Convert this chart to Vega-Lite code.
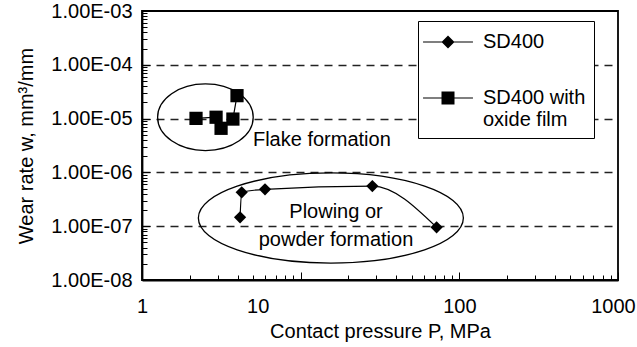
{
  "$schema": "https://vega.github.io/schema/vega-lite/v6.json",
  "width": 476,
  "height": 269,
  "autosize": {"type": "none"},
  "padding": {"left": 142, "top": 11, "right": 19, "bottom": 67},
  "background": "white",
  "config": {
    "font": "Liberation Sans",
    "view": {"stroke": "black", "strokeWidth": 1.8},
    "axis": {
      "labelFont": "Liberation Sans",
      "labelFontSize": 20,
      "labelColor": "black",
      "titleFont": "Liberation Sans",
      "titleFontSize": 20,
      "titleFontWeight": "normal",
      "titleColor": "black",
      "domainColor": "black",
      "domainWidth": 1.8,
      "tickColor": "black",
      "tickWidth": 1,
      "labelOverlap": false,
      "labelFlush": false
    },
    "text": {"font": "Liberation Sans"}
  },
  "datasets": {
    "pts": [
      {"series": "SD400", "i": 1, "P": 4.15, "w": 1.46e-7},
      {"series": "SD400", "i": 2, "P": 4.25, "w": 4.27e-7},
      {"series": "SD400", "i": 3, "P": 5.96, "w": 4.85e-7},
      {"series": "SD400", "i": 4, "P": 28.3, "w": 5.58e-7},
      {"series": "SD400", "i": 5, "P": 71.9, "w": 9.55e-8},
      {"series": "SD400 with oxide film", "i": 1, "P": 2.19, "w": 1.01e-5},
      {"series": "SD400 with oxide film", "i": 2, "P": 2.93, "w": 1.06e-5},
      {"series": "SD400 with oxide film", "i": 3, "P": 3.15, "w": 6.6e-6},
      {"series": "SD400 with oxide film", "i": 4, "P": 3.74, "w": 9.8e-6},
      {"series": "SD400 with oxide film", "i": 5, "P": 3.97, "w": 2.67e-5}
    ],
    "ell": [
      {"name": "flake", "P": 2.51, "w": 1.06e-5},
      {"name": "plow", "P": 15.5, "w": 1.42e-7}
    ],
    "ann": [
      {"label": "Flake formation", "P": 13.6, "w": 4.0e-6},
      {"label": "Plowing or", "P": 16.7, "w": 1.80e-7},
      {"label": "powder formation", "P": 16.7, "w": 5.54e-8}
    ]
  },
  "encoding": {
    "x": {
      "field": "P", "type": "quantitative",
      "scale": {"type": "log", "domain": [1, 1000]},
      "axis": {
        "title": "Contact pressure P, MPa",
        "values": [1,2,3,4,5,6,7,8,9,10,20,30,40,50,60,70,80,90,100,200,300,400,500,600,700,800,900,1000],
        "labelExpr": "indexof([1,10,100,1000], datum.value) >= 0 ? '' + datum.value : ''",
        "tickSize": {"condition": {"test": "indexof([1,10,100,1000], datum.value) >= 0", "value": -8}, "value": -5},
        "labelOffset": {"condition": [{"test": "datum.value == 10", "value": -43}, {"test": "datum.value == 1000", "value": -5}], "value": 0},
        "labelPadding": 24,
        "grid": false,
        "titlePadding": 2
      }
    },
    "y": {
      "field": "w", "type": "quantitative",
      "scale": {"type": "log", "domain": [1e-8, 1e-3]},
      "axis": {
        "title": "Wear rate w, mm³/mm",
        "values": [1e-8,2e-8,3e-8,4e-8,5e-8,6e-8,7e-8,8e-8,9e-8,1e-7,2e-7,3e-7,4e-7,5e-7,6e-7,7e-7,8e-7,9e-7,1e-6,2e-6,3e-6,4e-6,5e-6,6e-6,7e-6,8e-6,9e-6,1e-5,2e-5,3e-5,4e-5,5e-5,6e-5,7e-5,8e-5,9e-5,1e-4,2e-4,3e-4,4e-4,5e-4,6e-4,7e-4,8e-4,9e-4,1e-3],
        "labelExpr": "abs(log(datum.value)/LN10 - round(log(datum.value)/LN10)) < 0.001 ? '1.00E-0' + round(-log(datum.value)/LN10) : ''",
        "tickSize": {"condition": {"test": "abs(log(datum.value)/LN10 - round(log(datum.value)/LN10)) < 0.001", "value": -8}, "value": -5},
        "labelPadding": 18,
        "grid": true,
        "gridColor": "#222",
        "gridDash": [8, 6],
        "gridWidth": 1.3,
        "gridOpacity": {"condition": {"test": "abs(log(datum.value)/LN10 - round(log(datum.value)/LN10)) < 0.001 && datum.value > 2e-8 && datum.value < 5e-4", "value": 1}, "value": 0},
        "titlePadding": 14
      }
    }
  },
  "layer": [
    {
      "data": {"name": "pts"},
      "transform": [{"filter": "datum.series != 'SD400'"}],
      "mark": {"type": "line", "color": "black", "strokeWidth": 1.2},
      "encoding": {"order": {"field": "i", "type": "quantitative"}}
    },
    {
      "data": {"name": "pts"},
      "transform": [{"filter": "datum.series == 'SD400'"}],
      "mark": {"type": "line", "color": "black", "strokeWidth": 1.2, "interpolate": "monotone"},
      "encoding": {"order": {"field": "i", "type": "quantitative"}}
    },
    {
      "data": {"name": "pts"},
      "transform": [{"filter": "datum.series == 'SD400'"}],
      "mark": {"type": "point", "shape": "diamond", "filled": true, "color": "black", "opacity": 1, "size": 150}
    },
    {
      "data": {"name": "pts"},
      "transform": [{"filter": "datum.series != 'SD400'"}],
      "mark": {"type": "point", "shape": "square", "filled": true, "color": "black", "opacity": 1, "size": 175}
    },
    {
      "data": {"name": "pts"},
      "mark": {"type": "point", "filled": true, "color": "black", "opacity": 0, "size": 676},
      "encoding": {
        "shape": {
          "field": "series", "type": "nominal",
          "scale": {"domain": ["SD400", "SD400 with oxide film"],
                    "range": ["M-1.92,-0.045H1.92V0.045H-1.92ZM0,-0.5L0.5,0L0,0.5L-0.5,0Z", "M-1.92,-0.045H1.92V0.045H-1.92ZM-0.5,-0.5H0.5V0.5H-0.5Z"]},
          "legend": {
            "title": null,
            "orient": "none",
            "legendX": 276,
            "legendY": 10,
            "padding": 8,
            "strokeColor": "black",
            "fillColor": "white",
            "symbolSize": 676,
            "symbolOffset": 9,
            "symbolFillColor": "black",
            "symbolStrokeWidth": 0,
            "symbolOpacity": 1,
            "labelOffset": 22,
            "labelFont": "Liberation Sans",
            "labelFontSize": 20,
            "labelColor": "black",
            "labelLimit": 300,
            "rowPadding": 33,
            "labelExpr": "datum.value == 'SD400' ? 'SD400' : ['SD400 with', 'oxide film']"
          }
        }
      }
    },
    {
      "data": {"name": "ell"},
      "transform": [{"filter": "datum.name == 'flake'"}],
      "mark": {"type": "point", "filled": false, "color": "black", "opacity": 1, "strokeWidth": 1.3, "size": 9139,
               "shape": "M-1,0A1,0.697,0,1,1,1,0A1,0.697,0,1,1,-1,0Z"}
    },
    {
      "data": {"name": "ell"},
      "transform": [{"filter": "datum.name == 'plow'"}],
      "mark": {"type": "point", "filled": false, "color": "black", "opacity": 1, "strokeWidth": 1.3, "size": 70225,
               "shape": "M-1,0A1,0.34,0,1,1,1,0A1,0.34,0,1,1,-1,0Z"}
    },
    {
      "data": {"name": "ann"},
      "mark": {"type": "text", "fontSize": 20, "color": "black", "align": "center", "baseline": "middle"},
      "encoding": {"text": {"field": "label", "type": "nominal"}}
    }
  ]
}
